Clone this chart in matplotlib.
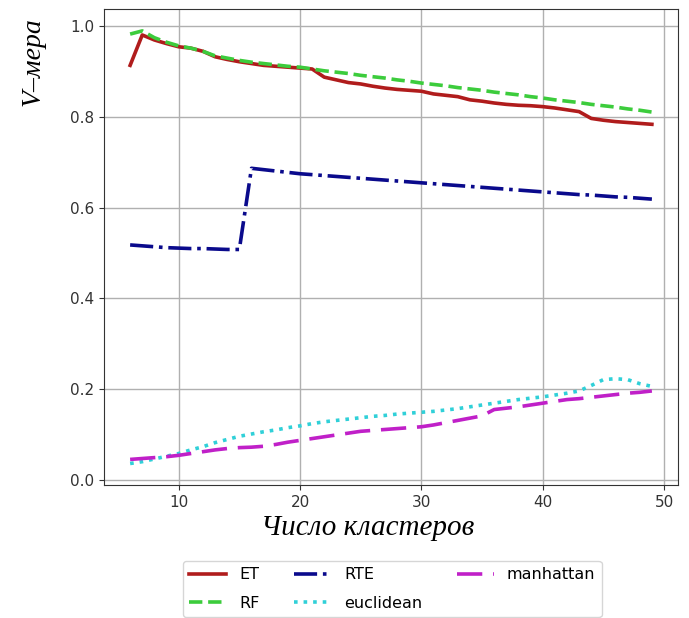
import numpy as np
import matplotlib.pyplot as plt

clusters = list(range(6, 50))

et = [0.914, 0.981, 0.970, 0.962, 0.955, 0.952, 0.945, 0.933, 0.927, 0.922,
      0.918, 0.914, 0.912, 0.910, 0.908, 0.906, 0.888, 0.882, 0.876, 0.873,
      0.868, 0.864, 0.861, 0.859, 0.857, 0.851, 0.848, 0.845, 0.838, 0.835,
      0.831, 0.828, 0.826, 0.825, 0.823, 0.820, 0.816, 0.812, 0.797, 0.793,
      0.790, 0.788, 0.786, 0.784]
rf = [0.983, 0.990, 0.975, 0.965, 0.957, 0.952, 0.945, 0.935, 0.930, 0.925,
      0.921, 0.918, 0.915, 0.912, 0.910, 0.906, 0.902, 0.899, 0.896, 0.892,
      0.889, 0.886, 0.882, 0.879, 0.875, 0.872, 0.869, 0.865, 0.862, 0.859,
      0.855, 0.852, 0.849, 0.845, 0.842, 0.838, 0.835, 0.832, 0.828, 0.825,
      0.822, 0.818, 0.815, 0.811]
rte = [0.518, 0.516, 0.514, 0.512, 0.511, 0.510, 0.510, 0.509, 0.508, 0.508,
       0.687, 0.684, 0.681, 0.678, 0.675, 0.673, 0.671, 0.669, 0.667, 0.665,
       0.663, 0.661, 0.659, 0.657, 0.655, 0.653, 0.651, 0.649, 0.647, 0.645,
       0.643, 0.641, 0.639, 0.637, 0.635, 0.633, 0.631, 0.629, 0.628, 0.626,
       0.624, 0.623, 0.621, 0.619]
euclidean = [0.036, 0.040, 0.046, 0.052, 0.058, 0.066, 0.073, 0.082, 0.089, 0.096,
             0.101, 0.106, 0.110, 0.115, 0.119, 0.124, 0.128, 0.131, 0.134, 0.137,
             0.140, 0.142, 0.145, 0.147, 0.149, 0.151, 0.154, 0.157, 0.161, 0.165,
             0.169, 0.173, 0.177, 0.180, 0.183, 0.187, 0.191, 0.196, 0.208, 0.221,
             0.223, 0.221, 0.212, 0.206]
manhattan = [0.045, 0.047, 0.049, 0.051, 0.054, 0.058, 0.062, 0.066, 0.069, 0.071,
             0.072, 0.074, 0.078, 0.083, 0.087, 0.091, 0.095, 0.099, 0.103, 0.107,
             0.109, 0.111, 0.113, 0.115, 0.117, 0.121, 0.126, 0.131, 0.136, 0.141,
             0.155, 0.158, 0.161, 0.165, 0.169, 0.173, 0.177, 0.179, 0.182, 0.185,
             0.188, 0.191, 0.193, 0.196]

fig = plt.figure(figsize=(6.89, 6.18), dpi=100)
ax = fig.add_axes([0.151, 0.215, 0.833, 0.770])

lw = 2.6
ax.plot(clusters, et, color='#b01c1c', lw=lw, label='ET')
ax.plot(clusters, rf, color='#3ccc3c', lw=lw, ls='--', label='RF')
ax.plot(clusters, rte, color='#0a0a8c', lw=lw, ls='-.', label='RTE')
ax.plot(clusters, euclidean, color='#30d0d8', lw=lw, ls=':', label='euclidean')
ax.plot(clusters, manhattan, color='#c020c8', lw=lw, dashes=(7, 3), label='manhattan')

ax.grid(True, color='#b0b0b0', lw=1.0)
ax.set_xticks([10, 20, 30, 40, 50])
ax.set_yticks([0.0, 0.2, 0.4, 0.6, 0.8, 1.0])
ax.tick_params(labelsize=11, colors='#333333')
for s in ax.spines.values():
    s.set_color('#333333')

fig.text(0.533, 0.145, 'Число кластеров', family='Liberation Serif',
         style='italic', fontsize=21, ha='center', va='center')
fig.text(0.048, 0.90, 'V\u2013мера', family='Liberation Serif',
         style='italic', fontsize=20, rotation=90, ha='center', va='center')

fig.legend(loc='upper left', bbox_to_anchor=(0.2656, 0.0922), borderaxespad=0,
           ncol=3, fontsize=11.5, handlelength=2.3, columnspacing=2.2,
           labelspacing=0.85, frameon=True, edgecolor='#cccccc', fancybox=True)

fig.savefig('out.png', dpi=100)
